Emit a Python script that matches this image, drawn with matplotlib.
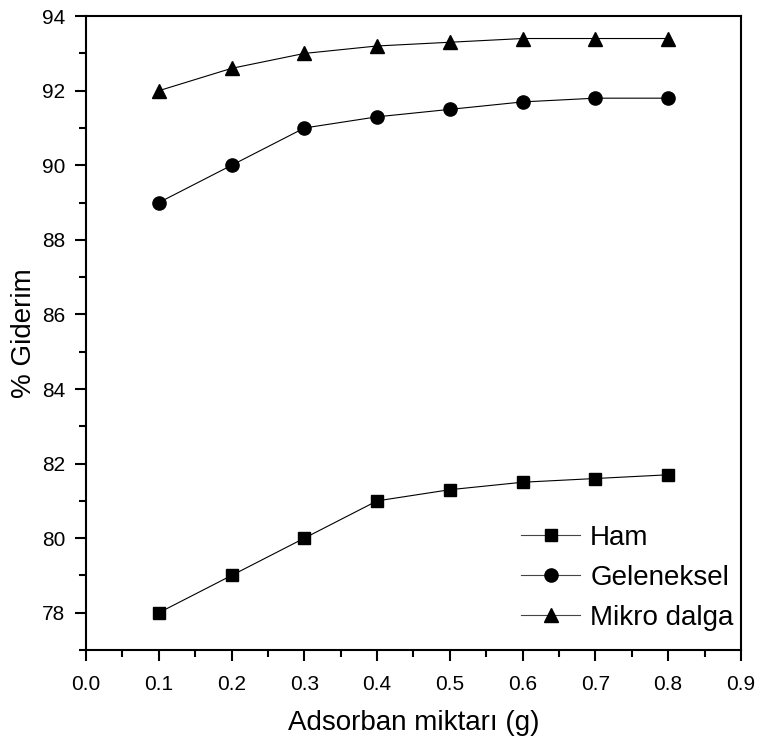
import matplotlib
matplotlib.use('Agg')
import matplotlib.pyplot as plt
from matplotlib.ticker import MultipleLocator

plt.rcParams['font.family'] = ['Liberation Sans', 'DejaVu Sans']

adsorban = [0.1, 0.2, 0.3, 0.4, 0.5, 0.6, 0.7, 0.8]
ham = [78.0, 79.0, 80.0, 81.0, 81.3, 81.5, 81.6, 81.7]
geleneksel = [89.0, 90.0, 91.0, 91.3, 91.5, 91.7, 91.8, 91.8]
mikro_dalga = [92.0, 92.6, 93.0, 93.2, 93.3, 93.4, 93.4, 93.4]

fig = plt.figure(figsize=(7.58, 7.44), dpi=100)
ax = fig.add_axes([0.1135, 0.1263, 0.864, 0.852])

ax.plot(adsorban, ham, '-s', color='black', lw=0.8, markersize=8.5, label='Ham')
ax.plot(adsorban, geleneksel, '-o', color='black', lw=0.8, markersize=9.5, label='Geleneksel')
ax.plot(adsorban, mikro_dalga, '-^', color='black', lw=0.8, markersize=10, label='Mikro dalga')

ax.set_xlim(0.0, 0.9)
ax.set_ylim(77, 94)
ax.xaxis.set_major_locator(MultipleLocator(0.1))
ax.xaxis.set_minor_locator(MultipleLocator(0.05))
ax.yaxis.set_major_locator(MultipleLocator(2))
ax.yaxis.set_minor_locator(MultipleLocator(1))
ax.xaxis.set_major_formatter(lambda v, p: '%.1f' % v)
ax.tick_params(which='major', direction='out', length=8, width=1.5, labelsize=15)
ax.tick_params(which='minor', direction='out', length=5, width=1.5)
ax.tick_params(axis='x', pad=10)
ax.tick_params(axis='y', pad=7)
for s in ax.spines.values():
    s.set_linewidth(1.5)

ax.set_xlabel('Adsorban miktarı (g)', fontsize=20)
ax.set_ylabel('% Giderim', fontsize=20)
ax.xaxis.set_label_coords(0.5, -0.095)
ax.yaxis.set_label_coords(-0.075, 0.5)

leg = ax.legend(loc='lower right', bbox_to_anchor=(0.993, 0.026), frameon=False,
                fontsize=20, handlelength=2.15, handletextpad=0.35,
                labelspacing=0.5, borderpad=0.1, borderaxespad=0)
for h in leg.legend_handles:
    h.set_color('#444444')
    h.set_markerfacecolor('black')
    h.set_markeredgecolor('black')

fig.savefig('out.png', dpi=100)
